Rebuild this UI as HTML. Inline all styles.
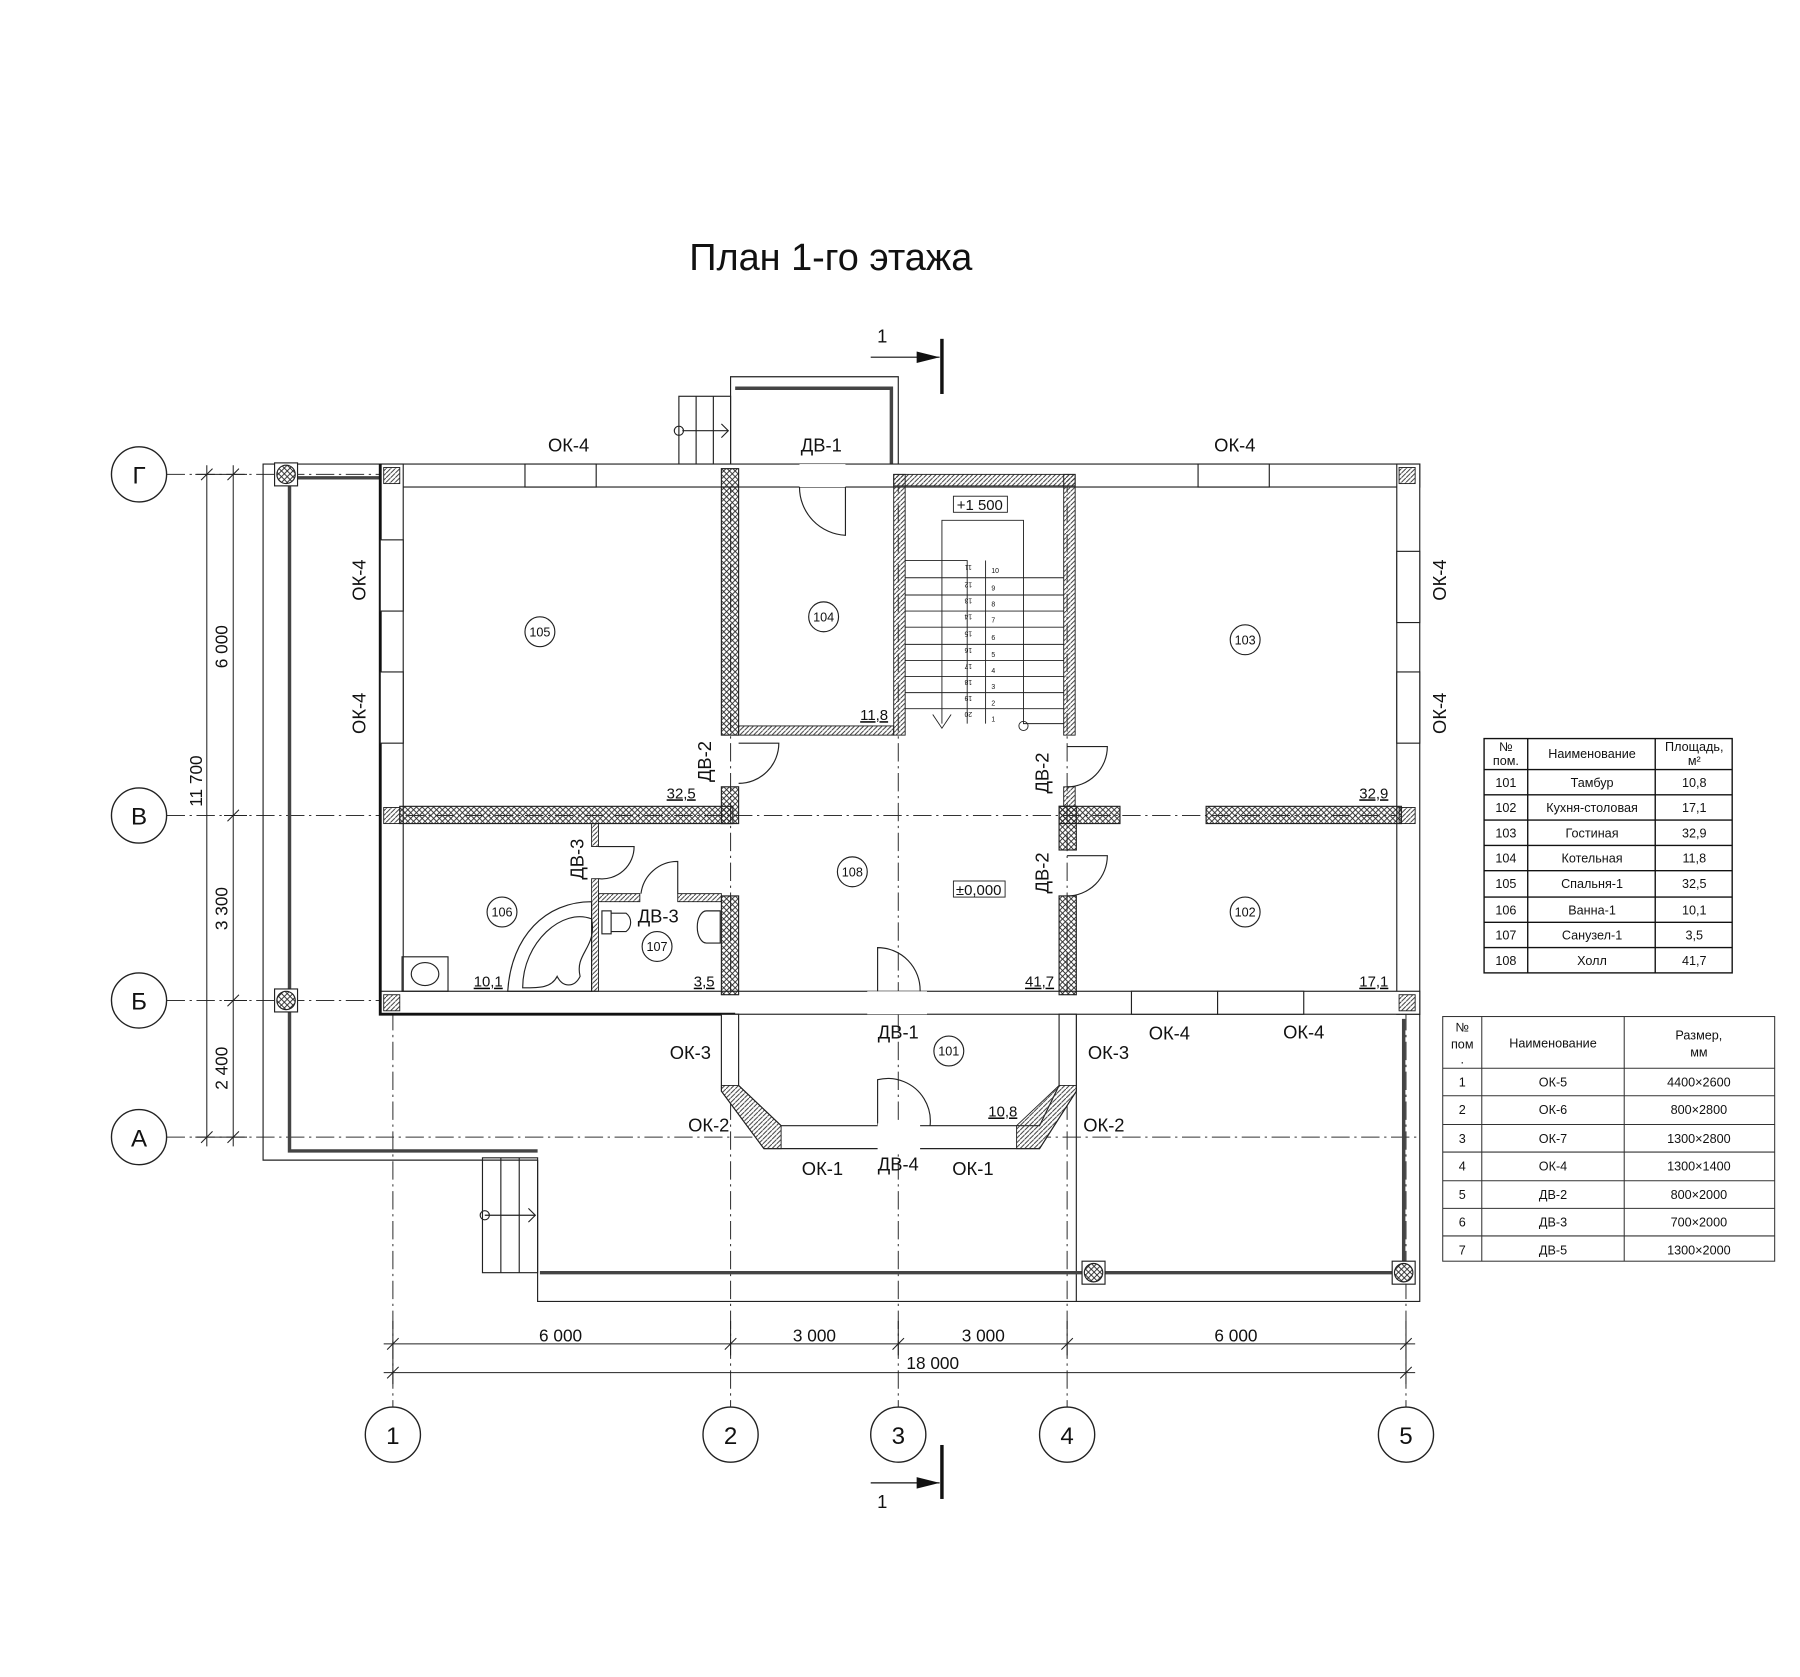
<!DOCTYPE html>
<html><head><meta charset="utf-8"><style>
html,body{margin:0;padding:0;background:#fff}
svg{display:block}
text{font-family:"Liberation Sans","DejaVu Sans",sans-serif;fill:#111}
</style></head><body>
<svg width="1800" height="1677" viewBox="0 0 1567 1460" xmlns="http://www.w3.org/2000/svg">
<defs>
<pattern id="x" width="5" height="5" patternUnits="userSpaceOnUse"><path d="M0 0L5 5M5 0L0 5" stroke="#222" stroke-width="0.8"/></pattern>
<pattern id="d" width="4" height="4" patternUnits="userSpaceOnUse"><path d="M0 4L4 0" stroke="#333" stroke-width="0.8"/></pattern>
<pattern id="c" width="30" height="30" patternUnits="userSpaceOnUse"><circle cx="15" cy="15" r="0.6" fill="#999"/></pattern>
</defs>
<rect width="1567" height="1460" fill="#fff"/>
<text x="600" y="235" font-size="33">План 1-го этажа</text>

<!-- grid lines -->
<g stroke="#333" stroke-width="0.9" stroke-dasharray="16 4 2 4" fill="none">
<line x1="145" y1="413" x2="1236" y2="413"/><line x1="145" y1="710" x2="1236" y2="710"/>
<line x1="145" y1="871" x2="1236" y2="871"/><line x1="145" y1="990" x2="1236" y2="990"/>
<line x1="342" y1="413" x2="342" y2="1225"/><line x1="636" y1="413" x2="636" y2="1225"/>
<line x1="782" y1="413" x2="782" y2="1225"/><line x1="929" y1="413" x2="929" y2="1225"/>
<line x1="1224" y1="413" x2="1224" y2="1225"/>
</g>
<g fill="#fff" stroke="#222" stroke-width="1.2">
<circle cx="121" cy="413" r="24"/><circle cx="121" cy="710" r="24"/><circle cx="121" cy="871" r="24"/><circle cx="121" cy="990" r="24"/>
<circle cx="342" cy="1249" r="24"/><circle cx="636" cy="1249" r="24"/><circle cx="782" cy="1249" r="24"/><circle cx="929" cy="1249" r="24"/><circle cx="1224" cy="1249" r="24"/>
</g>
<g font-size="21" text-anchor="middle">
<text x="121" y="421">Г</text><text x="121" y="718">В</text><text x="121" y="879">Б</text><text x="121" y="998">А</text>
<text x="342" y="1257">1</text><text x="636" y="1257">2</text><text x="782" y="1257">3</text><text x="929" y="1257">4</text><text x="1224" y="1257">5</text>
</g>

<!-- dimension lines -->
<g stroke="#222" stroke-width="0.9">
<line x1="180" y1="405" x2="180" y2="998"/><line x1="203" y1="405" x2="203" y2="998"/>
<line x1="170" y1="413" x2="215" y2="413"/><line x1="195" y1="710" x2="215" y2="710"/><line x1="195" y1="871" x2="215" y2="871"/><line x1="170" y1="990" x2="215" y2="990"/>
<path d="M175 418L185 408M198 418L208 408M198 715L208 705M198 876L208 866M175 995L185 985M198 995L208 985"/>
<line x1="334" y1="1170" x2="1232" y2="1170"/><line x1="334" y1="1195" x2="1232" y2="1195"/>
<line x1="342" y1="1150" x2="342" y2="1205"/><line x1="636" y1="1150" x2="636" y2="1180"/><line x1="782" y1="1150" x2="782" y2="1180"/><line x1="929" y1="1150" x2="929" y2="1180"/><line x1="1224" y1="1150" x2="1224" y2="1205"/>
<path d="M337 1175L347 1165M631 1175L641 1165M777 1175L787 1165M924 1175L934 1165M1219 1175L1229 1165M337 1200L347 1190M1219 1200L1229 1190"/>
</g>
<g font-size="15" text-anchor="middle">
<text x="488" y="1168">6 000</text><text x="709" y="1168">3 000</text><text x="856" y="1168">3 000</text><text x="1076" y="1168">6 000</text><text x="812" y="1192">18 000</text>
<text transform="translate(198,563) rotate(-90)">6 000</text>
<text transform="translate(198,791) rotate(-90)">3 300</text>
<text transform="translate(198,930) rotate(-90)">2 400</text>
<text transform="translate(176,680) rotate(-90)">11 700</text>
</g>

<!-- section marks -->
<g stroke="#111">
<line x1="820" y1="295" x2="820" y2="343" stroke-width="3"/><line x1="758" y1="311" x2="818" y2="311" stroke-width="1"/>
<line x1="820" y1="1258" x2="820" y2="1305" stroke-width="3"/><line x1="758" y1="1291" x2="818" y2="1291" stroke-width="1"/>
</g>
<path d="M818 311L798 306L798 316Z M818 1291L798 1286L798 1296Z" fill="#111"/>
<text x="768" y="298" font-size="16" text-anchor="middle">1</text>
<text x="768" y="1313" font-size="16" text-anchor="middle">1</text>

<!-- veranda / terraces -->
<g fill="none" stroke="#222" stroke-width="1">
<path d="M331 404H229V1010H468"/>
<path d="M468 1010V1133H1236V883"/>
<path d="M937 883V1133"/>
<rect x="591" y="345" width="45" height="59"/>
<line x1="606" y1="345" x2="606" y2="404"/><line x1="621" y1="345" x2="621" y2="404"/>
<line x1="594" y1="375" x2="634" y2="375"/><circle cx="591" cy="375" r="4"/><path d="M628 369L634 375L628 381"/>
<path d="M636 404V328H782V404"/>
<rect x="420" y="1008" width="48" height="100"/>
<line x1="436" y1="1008" x2="436" y2="1108"/><line x1="452" y1="1008" x2="452" y2="1108"/>
<line x1="422" y1="1058" x2="466" y2="1058"/><circle cx="422" cy="1058" r="4"/><path d="M460 1052L466 1058L460 1064"/>
</g>
<g fill="none" stroke="#444" stroke-width="3">
<path d="M331 416H252V1002H468"/>
<line x1="470" y1="1108" x2="1222" y2="1108"/>
<line x1="1222" y1="887" x2="1222" y2="1108"/>
<path d="M640 338H776V404"/>
</g>
<g stroke="#222" stroke-width="1">
<rect x="239" y="403" width="20" height="20" fill="#fff"/><circle cx="249" cy="413" r="8" fill="url(#x)"/>
<rect x="239" y="861" width="20" height="20" fill="#fff"/><circle cx="249" cy="871" r="8" fill="url(#x)"/>
<rect x="942" y="1098" width="20" height="20" fill="#fff"/><circle cx="952" cy="1108" r="8" fill="url(#x)"/>
<rect x="1212" y="1098" width="20" height="20" fill="#fff"/><circle cx="1222" cy="1108" r="8" fill="url(#x)"/>
</g>

<!-- exterior walls -->
<g stroke="#222" stroke-width="1" fill="#fff">
<rect x="331" y="404" width="905" height="20"/>
<rect x="331" y="404" width="20" height="479"/>
<rect x="1216" y="404" width="20" height="479"/>
<rect x="331" y="863" width="905" height="20"/>
</g>
<rect x="333" y="406" width="901" height="16" fill="url(#c)"/>
<path d="M331 404V883H640" fill="none" stroke="#111" stroke-width="2.5"/>
<!-- windows -->
<g fill="#fff" stroke="#222" stroke-width="1">
<rect x="457" y="404" width="62" height="20"/><rect x="1043" y="404" width="62" height="20"/>
<rect x="331" y="470" width="20" height="62"/><rect x="331" y="585" width="20" height="62"/>
<rect x="1216" y="480" width="20" height="62"/><rect x="1216" y="585" width="20" height="62"/>
<rect x="985" y="863" width="75" height="20"/><rect x="1060" y="863" width="75" height="20"/>
<rect x="696" y="404" width="40" height="20" stroke="none"/>
<rect x="755" y="863" width="52" height="20" stroke="none"/>
</g>
<!-- corner hatch -->
<g fill="url(#d)" stroke="#222" stroke-width="0.8">
<rect x="334" y="407" width="14" height="14"/><rect x="1218" y="407" width="14" height="14"/>
<rect x="334" y="866" width="14" height="14"/><rect x="1218" y="866" width="14" height="14"/>
<rect x="334" y="703" width="14" height="14"/><rect x="1218" y="703" width="14" height="14"/>
</g>
<!-- interior walls -->
<g fill="url(#x)" stroke="#222" stroke-width="1">
<rect x="628" y="408" width="15" height="232"/>
<rect x="628" y="685" width="15" height="32"/>
<rect x="348" y="702" width="290" height="15"/>
<rect x="922" y="702" width="53" height="15"/>
<rect x="922" y="702" width="15" height="38"/>
<rect x="1050" y="702" width="170" height="15"/>
<rect x="922" y="780" width="15" height="86"/>
<rect x="628" y="780" width="15" height="86"/>
</g>
<g fill="url(#d)" stroke="#222" stroke-width="0.8">
<rect x="778" y="413" width="158" height="10"/>
<rect x="778" y="413" width="10" height="227"/>
<rect x="926" y="413" width="10" height="227"/>
<rect x="643" y="632" width="135" height="8"/>
<rect x="926" y="685" width="10" height="17"/>
<rect x="515" y="717" width="6" height="20"/><rect x="515" y="765" width="6" height="98"/>
<rect x="521" y="778" width="36" height="7"/><rect x="590" y="778" width="38" height="7"/>
</g>
<!-- doors -->
<g fill="none" stroke="#222" stroke-width="1">
<path d="M736 424V466A42 42 0 0 1 696 424"/>
<path d="M643 647H678A35 35 0 0 1 643 682"/>
<path d="M929 650H964A35 35 0 0 1 929 685"/>
<path d="M929 745H964A35 35 0 0 1 929 780"/>
<path d="M521 737H552A28 28 0 0 1 521 765"/>
<path d="M590 778V750A32 32 0 0 0 558 778"/>
<path d="M764 863V825A37 37 0 0 1 801 863"/>
<path d="M764 1000V940A37 37 0 0 1 801 1000"/>
</g>
<!-- stair -->
<g fill="none" stroke="#222" stroke-width="0.8">
<path d="M788 488H842V630M820 630V453H891V630H926"/>
<path d="M858 488V630"/>
<line x1="788" y1="503" x2="926" y2="503"/><line x1="788" y1="518" x2="926" y2="518"/><line x1="788" y1="532" x2="926" y2="532"/><line x1="788" y1="546" x2="926" y2="546"/><line x1="788" y1="561" x2="926" y2="561"/><line x1="788" y1="575" x2="926" y2="575"/><line x1="788" y1="589" x2="926" y2="589"/><line x1="788" y1="603" x2="926" y2="603"/><line x1="788" y1="617" x2="926" y2="617"/>
<path d="M812 622L820 634L828 622"/><circle cx="891" cy="632" r="4"/>
<rect x="830" y="432" width="47" height="14"/>
<rect x="830" y="767" width="45" height="14"/>
</g>
<g font-size="6" fill="#333">
<text x="863" y="499">10</text><text x="863" y="514">9</text><text x="863" y="528">8</text><text x="863" y="542">7</text><text x="863" y="557">6</text><text x="863" y="572">5</text><text x="863" y="586">4</text><text x="863" y="600">3</text><text x="863" y="614">2</text><text x="863" y="628">1</text>
</g>
<g font-size="6" fill="#333" text-anchor="middle">
<text transform="translate(843,492) rotate(180)">11</text><text transform="translate(843,507) rotate(180)">12</text><text transform="translate(843,521) rotate(180)">13</text><text transform="translate(843,535) rotate(180)">14</text><text transform="translate(843,550) rotate(180)">15</text><text transform="translate(843,564) rotate(180)">16</text><text transform="translate(843,578) rotate(180)">17</text><text transform="translate(843,592) rotate(180)">18</text><text transform="translate(843,606) rotate(180)">19</text><text transform="translate(843,620) rotate(180)">20</text>
</g>
<text x="853" y="444" font-size="13" text-anchor="middle">+1 500</text>
<text x="852" y="779" font-size="13" text-anchor="middle">±0,000</text>
<!-- vestibule bay -->
<g fill="#fff" stroke="#222" stroke-width="1">
<path d="M628 883H643V945L680 980H905L922 945V883H937V950L905 1000H665L628 950Z"/>
</g>
<g fill="url(#d)" stroke="#222" stroke-width="0.8">
<path d="M628 945L643 945L680 980V1000H665L628 950Z"/>
<path d="M937 945L922 945L885 980V1000H905L937 950Z"/>
</g>
<rect x="764" y="978" width="37" height="24" fill="#fff"/>
<!-- bath fixtures -->
<g fill="none" stroke="#222" stroke-width="1">
<rect x="350" y="833" width="40" height="30"/><ellipse cx="370" cy="848" rx="12" ry="10"/>
<path d="M442 863C445 815 475 785 515 785V863Z"/>
<path d="M455 860C455 820 490 790 515 800C520 825 500 830 505 850C500 860 490 860 485 850C480 860 470 860 455 860Z"/>
<rect x="524" y="793" width="8" height="20"/><path d="M532 795H545A10 10 0 0 1 545 811H532"/>
<path d="M627 793H615A8 14 0 0 0 615 821H627Z"/>
</g>
<!-- room numbers -->
<g fill="#fff" stroke="#222" stroke-width="1">
<circle cx="470" cy="550" r="13"/><circle cx="717" cy="537" r="13"/><circle cx="1084" cy="557" r="13"/>
<circle cx="742" cy="759" r="13"/><circle cx="437" cy="794" r="13"/><circle cx="572" cy="824" r="13"/>
<circle cx="1084" cy="794" r="13"/><circle cx="826" cy="915" r="13"/>
</g>
<g font-size="11" text-anchor="middle">
<text x="470" y="554">105</text><text x="717" y="541">104</text><text x="1084" y="561">103</text><text x="742" y="763">108</text><text x="437" y="798">106</text><text x="572" y="828">107</text><text x="1084" y="798">102</text><text x="826" y="919">101</text>
</g>
<g font-size="13" text-anchor="middle" text-decoration="underline">
<text x="761" y="627">11,8</text><text x="593" y="695">32,5</text><text x="1196" y="695">32,9</text>
<text x="425" y="859">10,1</text><text x="613" y="859">3,5</text><text x="905" y="859">41,7</text><text x="1196" y="859">17,1</text><text x="873" y="972">10,8</text>
</g>
<!-- labels -->
<g font-size="16" text-anchor="middle">
<text x="495" y="393">ОК-4</text><text x="715" y="393">ДВ-1</text><text x="1075" y="393">ОК-4</text>
<text transform="translate(318,505) rotate(-90)">ОК-4</text>
<text transform="translate(318,621) rotate(-90)">ОК-4</text>
<text transform="translate(1259,505) rotate(-90)">ОК-4</text>
<text transform="translate(1259,621) rotate(-90)">ОК-4</text>
<text transform="translate(619,663) rotate(-90)">ДВ-2</text>
<text transform="translate(913,673) rotate(-90)">ДВ-2</text>
<text transform="translate(913,760) rotate(-90)">ДВ-2</text>
<text transform="translate(508,748) rotate(-90)">ДВ-3</text>
<text x="573" y="803">ДВ-3</text>
<text x="782" y="904">ДВ-1</text><text x="782" y="1019">ДВ-4</text>
<text x="601" y="922">ОК-3</text><text x="965" y="922">ОК-3</text>
<text x="617" y="985">ОК-2</text><text x="961" y="985">ОК-2</text>
<text x="716" y="1023">ОК-1</text><text x="847" y="1023">ОК-1</text>
<text x="1018" y="905">ОК-4</text><text x="1135" y="904">ОК-4</text>
</g>

<!-- table 1 -->
<g fill="none" stroke="#111" stroke-width="1.2">
<rect x="1292" y="643" width="216" height="204"/>
<line x1="1330" y1="643" x2="1330" y2="847"/><line x1="1441" y1="643" x2="1441" y2="847"/>
<line x1="1292" y1="670" x2="1508" y2="670"/><line x1="1292" y1="692" x2="1508" y2="692"/><line x1="1292" y1="714" x2="1508" y2="714"/><line x1="1292" y1="736" x2="1508" y2="736"/><line x1="1292" y1="758" x2="1508" y2="758"/><line x1="1292" y1="781" x2="1508" y2="781"/><line x1="1292" y1="803" x2="1508" y2="803"/><line x1="1292" y1="825" x2="1508" y2="825"/>
</g>
<g font-size="11" text-anchor="middle" font-family="DejaVu Sans">
<text x="1311" y="654">№</text><text x="1311" y="666">пом.</text><text x="1386" y="660">Наименование</text><text x="1475" y="654">Площадь,</text><text x="1475" y="666">м²</text>
<text x="1311" y="685">101</text><text x="1386" y="685">Тамбур</text><text x="1475" y="685">10,8</text>
<text x="1311" y="707">102</text><text x="1386" y="707">Кухня-столовая</text><text x="1475" y="707">17,1</text>
<text x="1311" y="729">103</text><text x="1386" y="729">Гостиная</text><text x="1475" y="729">32,9</text>
<text x="1311" y="751">104</text><text x="1386" y="751">Котельная</text><text x="1475" y="751">11,8</text>
<text x="1311" y="773">105</text><text x="1386" y="773">Спальня-1</text><text x="1475" y="773">32,5</text>
<text x="1311" y="796">106</text><text x="1386" y="796">Ванна-1</text><text x="1475" y="796">10,1</text>
<text x="1311" y="818">107</text><text x="1386" y="818">Санузел-1</text><text x="1475" y="818">3,5</text>
<text x="1311" y="840">108</text><text x="1386" y="840">Холл</text><text x="1475" y="840">41,7</text>
</g>
<!-- table 2 -->
<g fill="none" stroke="#333" stroke-width="0.9">
<rect x="1256" y="885" width="289" height="213"/>
<line x1="1290" y1="885" x2="1290" y2="1098"/><line x1="1414" y1="885" x2="1414" y2="1098"/>
<line x1="1256" y1="930" x2="1545" y2="930"/><line x1="1256" y1="954" x2="1545" y2="954"/><line x1="1256" y1="979" x2="1545" y2="979"/><line x1="1256" y1="1003" x2="1545" y2="1003"/><line x1="1256" y1="1028" x2="1545" y2="1028"/><line x1="1256" y1="1052" x2="1545" y2="1052"/><line x1="1256" y1="1076" x2="1545" y2="1076"/>
</g>
<g font-size="11" text-anchor="middle" font-family="DejaVu Sans">
<text x="1273" y="898">№</text><text x="1273" y="913">пом</text><text x="1273" y="926">.</text>
<text x="1352" y="912">Наименование</text><text x="1479" y="905">Размер,</text><text x="1479" y="920">мм</text>
<text x="1273" y="946">1</text><text x="1352" y="946">ОК-5</text><text x="1479" y="946">4400×2600</text>
<text x="1273" y="970">2</text><text x="1352" y="970">ОК-6</text><text x="1479" y="970">800×2800</text>
<text x="1273" y="995">3</text><text x="1352" y="995">ОК-7</text><text x="1479" y="995">1300×2800</text>
<text x="1273" y="1019">4</text><text x="1352" y="1019">ОК-4</text><text x="1479" y="1019">1300×1400</text>
<text x="1273" y="1044">5</text><text x="1352" y="1044">ДВ-2</text><text x="1479" y="1044">800×2000</text>
<text x="1273" y="1068">6</text><text x="1352" y="1068">ДВ-3</text><text x="1479" y="1068">700×2000</text>
<text x="1273" y="1092">7</text><text x="1352" y="1092">ДВ-5</text><text x="1479" y="1092">1300×2000</text>
</g>
</svg>
</body></html>
